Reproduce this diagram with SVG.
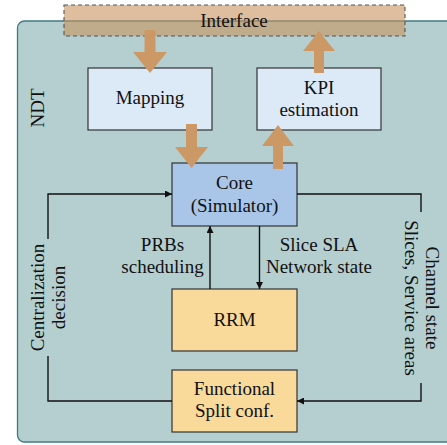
<svg xmlns="http://www.w3.org/2000/svg" width="447" height="445" viewBox="0 0 447 445">
<style>
text{font-family:"Liberation Serif","Times New Roman",serif;font-size:19px;fill:#111;text-anchor:middle}
.box{stroke:#333;stroke-width:1.2}
.blue{fill:#dce9f6}
.core{fill:#a9c6e8}
.yel{fill:#f9da9b}
.con{fill:none;stroke:#111;stroke-width:1.4}
.big{fill:#cc9966}
</style>
<defs>
<marker id="ah" viewBox="0 0 10 10" refX="10" refY="5" markerWidth="8" markerHeight="7" markerUnits="userSpaceOnUse" orient="auto">
<path d="M0,0 L10,5 L0,10 z" fill="#111"/>
</marker>
</defs>
<g id="ndt">
<rect x="17.5" y="21" width="460" height="421" rx="7" fill="#b5cfd0" stroke="#3f7b82" stroke-width="1.3"/>
<text transform="translate(44,108) rotate(-90)">NDT</text>
</g>
<g id="interface">
<rect x="64" y="5" width="341" height="31" fill="#c8925e" fill-opacity="0.6" stroke="#555" stroke-width="1.1" stroke-dasharray="4 3"/>
<text x="234" y="27">Interface</text>
</g>
<g id="mapping">
<rect class="box blue" x="88" y="68" width="124" height="62"/>
<text x="150" y="104">Mapping</text>
</g>
<g id="kpi">
<rect class="box blue" x="257" y="68" width="124" height="62"/>
<text x="319" y="94">KPI</text>
<text x="319" y="115.5">estimation</text>
</g>
<g id="core">
<rect class="box core" x="172" y="163" width="125" height="63"/>
<text x="234.5" y="189">Core</text>
<text x="234.5" y="211.5">(Simulator)</text>
</g>
<g id="rrm">
<rect class="box yel" x="172" y="289" width="125" height="62"/>
<text x="234.5" y="326">RRM</text>
</g>
<g id="fsc">
<rect class="box yel" x="172" y="370" width="125" height="62"/>
<text x="234.5" y="395">Functional</text>
<text x="234.5" y="417">Split conf.</text>
</g>
<g id="connectors">
<path class="big" d="M144.5,30 H155.5 V52 H167 L150,73 L133,52 H144.5 Z"/>
<path class="big" d="M314,73 H324 V51 H335 L319,31 L303,51 H314 Z"/>
<path class="big" d="M186,124 H197 V147 H208 L191.5,168 L175,147 H186 Z"/>
<path class="big" d="M273,169 H283 V146 H294 L278,125 L262,146 H273 Z"/>
<path class="con" d="M48,239 V194 H172" marker-end="url(#ah)"/>
<path class="con" d="M48,356 V401 H172"/>
<path class="con" d="M297,194 H421 V212"/>
<path class="con" d="M421,383 V401 H297" marker-end="url(#ah)"/>
<path class="con" d="M210,289 V226" marker-end="url(#ah)"/>
<path class="con" d="M259.5,226 V289" marker-end="url(#ah)"/>
<text x="162.5" y="251">PRBs</text>
<text x="162.5" y="273">scheduling</text>
<text x="319" y="251">Slice SLA</text>
<text x="319" y="273">Network state</text>
<g transform="translate(44,297.5) rotate(-90)">
<text x="0" y="0">Centralization</text>
<text x="0" y="21">decision</text>
</g>
<g transform="translate(426,298) rotate(90)">
<text x="0" y="0">Channel state</text>
<text x="0" y="21">Slices, Service areas</text>
</g>
</g>
</svg>
